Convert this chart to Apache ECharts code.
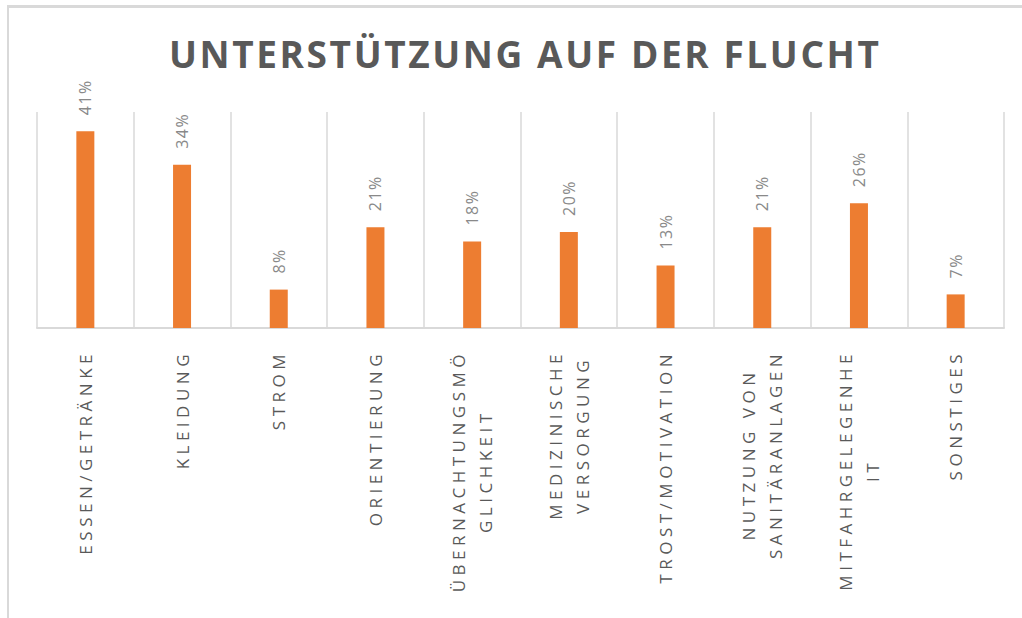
<!DOCTYPE html>
<html>
<head>
<meta charset="utf-8">
<script src="https://cdn.jsdelivr.net/npm/echarts@6/dist/echarts.min.js"></script>
<style>
  html, body { margin: 0; padding: 0; background: #fff; }
  #frame {
    position: absolute; left: 7px; top: 5px; width: 1100px; height: 700px;
    border-left: 2px solid #d9d9d9; border-top: 3px solid #d9d9d9;
  }
  #chart { position: absolute; left: 0; top: 0; width: 1022px; height: 618px; }
</style>
</head>
<body>
<div id="frame"></div>
<div id="chart"></div>
<script>
const titleText = 'UNTERSTÜTZUNG AUF DER FLUCHT'
const categories = [
  'ESSEN/GETRÄNKE',
  'KLEIDUNG',
  'STROM',
  'ORIENTIERUNG',
  'ÜBERNACHTUNGSMÖ\nGLICHKEIT',
  'MEDIZINISCHE\nVERSORGUNG',
  'TROST/MOTIVATION',
  'NUTZUNG VON\nSANITÄRANLAGEN',
  'MITFAHRGELEGENHE\nIT',
  'SONSTIGES'
]
const shares = [41, 34, 8, 21, 18, 20, 13, 21, 26, 7]
const yMax = 45

// letter spacing (px) per font size, to get the spaced-out office look
const tracking = { 37: 2.6, 17: 4.5, 16: 1.5 }

// svg text gets the spacing through css
const css = Object.keys(tracking)
  .map((size) => `#chart text[style*="${size}px"] { letter-spacing: ${tracking[size]}px; }`)
  .join('\n')
const styleEl = document.createElement('style')
styleEl.textContent = css
document.head.appendChild(styleEl)

// and the layout has to know about it too
const measureCtx = document.createElement('canvas').getContext('2d')
echarts.setPlatformAPI({
  measureText(text, font) {
    measureCtx.font = font || '12px sans-serif'
    const m = /(\d+(\.\d+)?)px/.exec(measureCtx.font)
    const sp = (m && tracking[Math.round(+m[1])]) || 0
    return { width: measureCtx.measureText(text).width + sp * text.length }
  }
})

const grey = '#595959'
const lineGrey = '#d9d9d9'

const chart = echarts.init(document.getElementById('chart'), null, { renderer: 'svg' })

chart.setOption({
  animation: false,
  title: {
    text: titleText,
    left: 164,
    top: 29,
    textStyle: {
      fontFamily: 'Open Sans',
      fontWeight: 'bold',
      fontSize: 37,
      color: grey
    }
  },
  grid: { left: 37, right: 18, top: 112, bottom: 290 },
  xAxis: {
    type: 'category',
    data: categories,
    axisLine: { show: true, lineStyle: { color: lineGrey, width: 2 } },
    axisTick: { show: false },
    splitLine: { show: true, lineStyle: { color: lineGrey, width: 1.5 } },
    axisLabel: {
      interval: 0,
      rotate: 90,
      margin: 22,
      formatter: (v) => v.split('\n').map((s) => '{a|' + s + '}').join('\n'),
      rich: {
        a: {
          align: 'center',
          fontFamily: 'Open Sans',
          fontSize: 17,
          lineHeight: 27,
          color: grey
        }
      }
    }
  },
  yAxis: {
    type: 'value',
    min: 0,
    max: yMax,
    show: false,
    splitLine: { show: false }
  },
  series: [
    {
      type: 'bar',
      data: shares,
      barWidth: 18,
      itemStyle: { color: '#ed7d31' },
      label: {
        show: true,
        position: 'top',
        rotate: 90,
        align: 'left',
        verticalAlign: 'middle',
        distance: 16,
        formatter: '{c}%',
        fontFamily: 'Open Sans',
        fontSize: 16,
        color: '#898989'
      }
    }
  ]
})
</script>
</body>
</html>
